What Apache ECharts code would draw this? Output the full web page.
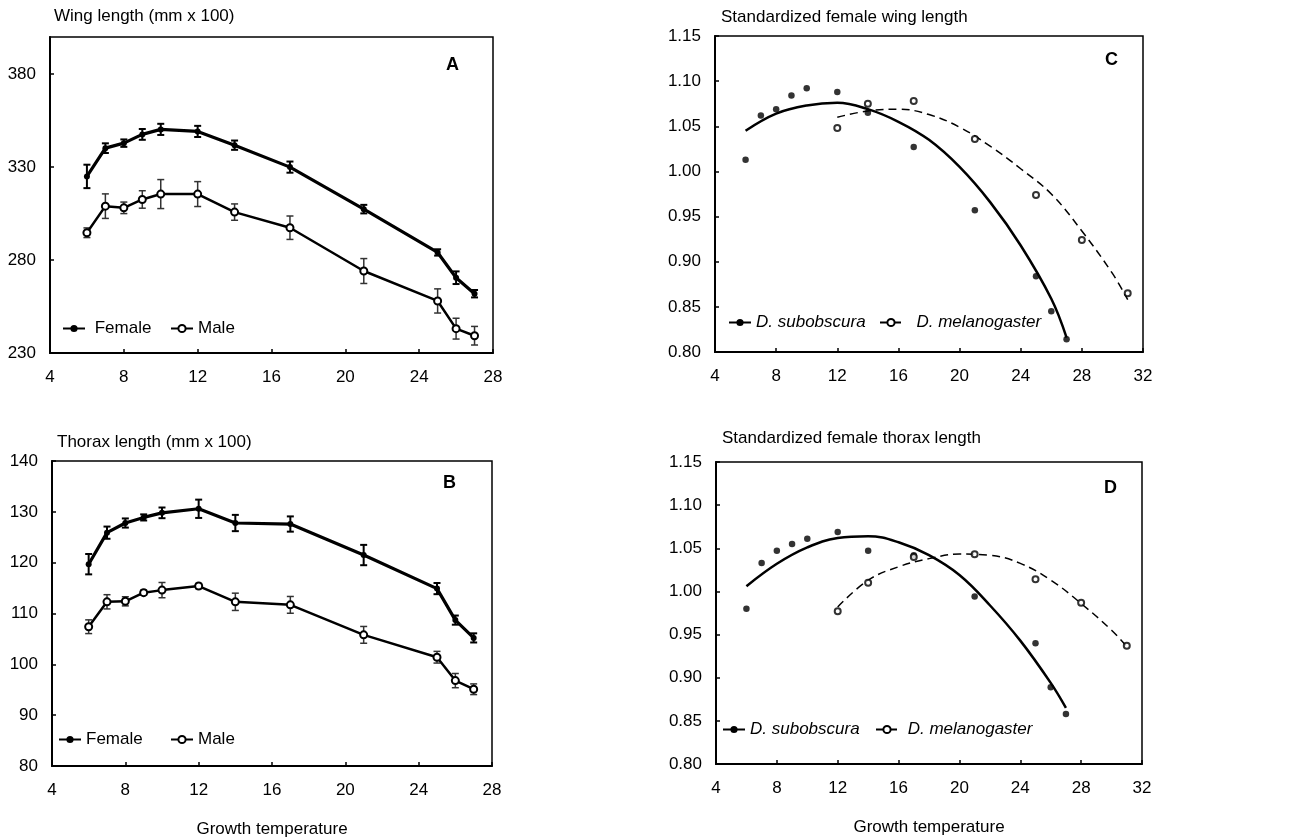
<!DOCTYPE html>
<html>
<head>
<meta charset="utf-8">
<title>Wing and thorax length vs growth temperature</title>
<script src="https://cdn.jsdelivr.net/npm/echarts@6/dist/echarts.min.js"></script>
<style>
    html, body { margin: 0; padding: 0; background: #fff; }
    #main { width: 1293px; height: 839px; }
</style>
</head>
<body>
<div id="main"></div>
<script>
    // growth temperatures used for panels A and B (and the subobscura dots)
    var temps = [6, 7, 8, 9, 10, 12, 14, 17, 21, 25, 26, 27];

    // A: wing length (mm x 100), mean and half error bar
    var wingFemale = [325, 340.2, 342.9, 347.6, 350.3, 349.2, 341.8, 330, 307.4, 284.1, 270.5, 261.9];
    var wingFemaleErr = [6.3, 2.6, 2, 2.9, 3, 3, 2.5, 3, 2.3, 1.7, 3.4, 2];
    var wingMale = [294.7, 309, 308.1, 312.6, 315.5, 315.5, 305.8, 297.4, 274.1, 258, 243.1, 239.3];
    var wingMaleErr = [2.6, 6.6, 3.1, 4.7, 7.8, 6.7, 4.4, 6.3, 6.7, 6.5, 5.6, 5];

    // B: thorax length (mm x 100)
    var thoraxFemale = [119.7, 125.9, 127.8, 128.9, 129.8, 130.6, 127.8, 127.6, 121.5, 114.9, 108.7, 105.2];
    var thoraxFemaleErr = [2.0, 1.2, 0.9, 0.6, 1.05, 1.8, 1.6, 1.5, 2.0, 1.1, 0.9, 0.9];
    var thoraxMale = [107.4, 112.3, 112.4, 114.1, 114.6, 115.4, 112.3, 111.7, 105.8, 101.4, 96.8, 95.1];
    var thoraxMaleErr = [1.35, 1.4, 0.9, 0.5, 1.5, 0.5, 1.7, 1.65, 1.65, 1.15, 1.4, 1.05];

    // C / D: standardized female sizes
    var melTemps = [12, 14, 17, 21, 25, 28, 31];
    var wingSub = [1.013, 1.062, 1.069, 1.084, 1.092, 1.088, 1.065, 1.027, 0.957, 0.884, 0.845, 0.814];
    var wingMel = [1.048, 1.075, 1.078, 1.036, 0.974, 0.924, 0.865];
    var thoraxSub = [0.980, 1.033, 1.047, 1.055, 1.061, 1.069, 1.047, 1.042, 0.994, 0.940, 0.889, 0.858];
    var thoraxMel = [0.977, 1.010, 1.040, 1.043, 1.014, 0.987, 0.937];

    // fitted curves
    var subFitTemps = [6, 8, 10, 12, 14, 16, 18, 20, 22, 24, 26, 27];
    var melFitTemps = [12, 14, 16, 18, 20, 22, 24, 26, 28, 30, 31];
    var wingSubFit = [1.045, 1.064, 1.073, 1.076, 1.069, 1.055, 1.035, 1.005, 0.966, 0.918, 0.859, 0.816];
    var wingMelFit = [1.060, 1.067, 1.069, 1.063, 1.049, 1.028, 1.003, 0.975, 0.934, 0.887, 0.858];
    var thoraxSubFit = [1.006, 1.032, 1.051, 1.062, 1.064, 1.057, 1.042, 1.019, 0.984, 0.943, 0.894, 0.865];
    var thoraxMelFit = [0.982, 1.013, 1.0286, 1.038, 1.0433, 1.042, 1.0325, 1.0132, 0.986, 0.955, 0.936];

    var FONT = '"Liberation Sans", Arial, Helvetica, sans-serif';

    function zip(xs, ys) {
        return xs.map(function (x, i) { return [x, ys[i]]; });
    }

    function tempAxis(gridIndex, max, withName) {
        return {
            type: 'value',
            gridIndex: gridIndex,
            min: 4,
            max: max,
            interval: 4,
            axisLine: { show: true, onZero: false, lineStyle: { color: '#000', width: 2 } },
            axisTick: { show: true, inside: true, length: 4, lineStyle: { color: '#000', width: 1.5 } },
            axisLabel: { color: '#000', fontSize: 17, margin: 16, fontFamily: FONT },
            splitLine: { show: false },
            name: withName ? 'Growth temperature' : '',
            nameLocation: 'middle',
            nameGap: 55,
            nameTextStyle: { color: '#000', fontSize: 17, fontFamily: FONT }
        };
    }

    function valueAxis(gridIndex, min, max, interval, digits, hideMax) {
        return {
            type: 'value',
            gridIndex: gridIndex,
            min: min,
            max: max,
            interval: interval,
            axisLine: { show: true, onZero: false, lineStyle: { color: '#000', width: 2 } },
            axisTick: { show: true, inside: true, length: 4, lineStyle: { color: '#000', width: 1.5 } },
            axisLabel: {
                color: '#000',
                fontSize: 17,
                margin: 14,
                fontFamily: FONT,
                showMaxLabel: !hideMax,
                formatter: function (v) { return v.toFixed(digits); }
            },
            splitLine: { show: false }
        };
    }

    // vertical error bars with caps
    function errorBars(axis, means, errs, width, color) {
        var data = temps.map(function (t, i) {
            return [t, means[i] - errs[i], means[i] + errs[i]];
        });
        return {
            type: 'custom',
            xAxisIndex: axis,
            yAxisIndex: axis,
            silent: true,
            z: 1,
            data: data,
            encode: { x: 0, y: [1, 2] },
            renderItem: function (params, api) {
                var lo = api.coord([api.value(0), api.value(1)]);
                var hi = api.coord([api.value(0), api.value(2)]);
                var half = 3.5;
                var style = { stroke: color, lineWidth: width };
                return {
                    type: 'group',
                    children: [
                        { type: 'line', shape: { x1: lo[0], y1: lo[1], x2: hi[0], y2: hi[1] }, style: style },
                        { type: 'line', shape: { x1: lo[0] - half, y1: lo[1], x2: lo[0] + half, y2: lo[1] }, style: style },
                        { type: 'line', shape: { x1: hi[0] - half, y1: hi[1], x2: hi[0] + half, y2: hi[1] }, style: style }
                    ]
                };
            }
        };
    }

    function femaleLine(axis, values) {
        return {
            name: 'Female',
            type: 'line',
            xAxisIndex: axis,
            yAxisIndex: axis,
            z: 3,
            data: zip(temps, values),
            symbol: 'circle',
            symbolSize: 6,
            itemStyle: { color: '#000' },
            lineStyle: { color: '#000', width: 3.2 }
        };
    }

    function maleLine(axis, values) {
        return {
            name: 'Male',
            type: 'line',
            xAxisIndex: axis,
            yAxisIndex: axis,
            z: 3,
            data: zip(temps, values),
            symbol: 'emptyCircle',
            symbolSize: 7,
            itemStyle: { color: '#000', borderWidth: 1.3 },
            lineStyle: { color: '#000', width: 2.5 }
        };
    }

    function subCurve(axis, values) {
        return {
            name: 'D. subobscura',
            type: 'line',
            xAxisIndex: axis,
            yAxisIndex: axis,
            smooth: 0.4,
            showSymbol: false,
            symbol: 'circle',
            symbolSize: 6,
            data: zip(subFitTemps, values),
            itemStyle: { color: '#000' },
            lineStyle: { color: '#000', width: 2.5 }
        };
    }

    function melCurve(axis, values) {
        return {
            name: 'D. melanogaster',
            type: 'line',
            xAxisIndex: axis,
            yAxisIndex: axis,
            smooth: 0.4,
            showSymbol: false,
            symbol: 'emptyCircle',
            symbolSize: 6,
            data: zip(melFitTemps, values),
            itemStyle: { color: '#000', borderWidth: 1 },
            lineStyle: { color: '#000', width: 1.5, type: [8, 5] }
        };
    }

    function dots(axis, xs, values, open) {
        return {
            type: 'scatter',
            xAxisIndex: axis,
            yAxisIndex: axis,
            z: 4,
            data: zip(xs, values),
            symbol: open ? 'emptyCircle' : 'circle',
            symbolSize: open ? 6 : 6.5,
            itemStyle: { color: '#000', borderWidth: 1 }
        };
    }

    function legendItem(name, left, top, formatter, italic) {
        return {
            data: [name],
            left: left,
            top: top,
            padding: 0,
            itemWidth: 22,
            itemHeight: 9,
            selectedMode: false,
            formatter: formatter,
            textStyle: { color: '#000', fontSize: 17, fontFamily: FONT, fontStyle: italic ? 'italic' : 'normal' }
        };
    }

    function label(text, left, top, bold) {
        return {
            text: text,
            left: left,
            top: top,
            padding: 0,
            textStyle: { color: '#000', fontSize: bold ? 18 : 17, fontWeight: bold ? 'bold' : 'normal', fontFamily: FONT }
        };
    }

    var pad = function (name) { return ' ' + name; };

    var option = {
        animation: false,
        backgroundColor: '#fff',
        title: [
            label('Wing length (mm x 100)', 54, 8),
            label('A', 446, 56, true),
            label('Thorax length (mm x 100)', 57, 434),
            label('B', 443, 474, true),
            label('Standardized female wing length', 721, 9),
            label('C', 1105, 51, true),
            label('Standardized female thorax length', 722, 430),
            label('D', 1104, 479, true)
        ],
        legend: [
            legendItem('Female', 62, 320, pad),
            legendItem('Male', 170, 320, null),
            legendItem('Female', 58, 731, null),
            legendItem('Male', 170, 731, null),
            legendItem('D. subobscura', 728, 314, null, true),
            legendItem('D. melanogaster', 879, 314, function (n) { return '  ' + n; }, true),
            legendItem('D. subobscura', 722, 721, null, true),
            legendItem('D. melanogaster', 875, 721, pad, true)
        ],
        grid: [
            { left: 50, top: 37, width: 443, height: 316 },
            { left: 52, top: 461, width: 440, height: 305 },
            { left: 715, top: 36, width: 428, height: 316 },
            { left: 716, top: 462, width: 426, height: 302 }
        ].map(function (g) {
            g.show = true;
            g.borderColor = '#000';
            g.borderWidth = 1.5;
            g.backgroundColor = 'transparent';
            g.outerBoundsMode = 'none';
            return g;
        }),
        xAxis: [
            tempAxis(0, 28, false),
            tempAxis(1, 28, true),
            tempAxis(2, 32, false),
            tempAxis(3, 32, true)
        ],
        yAxis: [
            valueAxis(0, 230, 400, 50, 0, true),
            valueAxis(1, 80, 140, 10, 0, false),
            valueAxis(2, 0.8, 1.15, 0.05, 2, false),
            valueAxis(3, 0.8, 1.15, 0.05, 2, false)
        ],
        series: [
            // A
            errorBars(0, wingFemale, wingFemaleErr, 2, '#000'),
            errorBars(0, wingMale, wingMaleErr, 1.5, '#333'),
            femaleLine(0, wingFemale),
            maleLine(0, wingMale),
            // B
            errorBars(1, thoraxFemale, thoraxFemaleErr, 2, '#000'),
            errorBars(1, thoraxMale, thoraxMaleErr, 1.5, '#333'),
            femaleLine(1, thoraxFemale),
            maleLine(1, thoraxMale),
            // C
            subCurve(2, wingSubFit),
            melCurve(2, wingMelFit),
            dots(2, temps, wingSub, false),
            dots(2, melTemps, wingMel, true),
            // D
            subCurve(3, thoraxSubFit),
            melCurve(3, thoraxMelFit),
            dots(3, temps, thoraxSub, false),
            dots(3, melTemps, thoraxMel, true)
        ]
    };

    var chart = echarts.init(document.getElementById('main'));
    chart.setOption(option);
    window.addEventListener('resize', function () { chart.resize(); });
</script>
</body>
</html>
